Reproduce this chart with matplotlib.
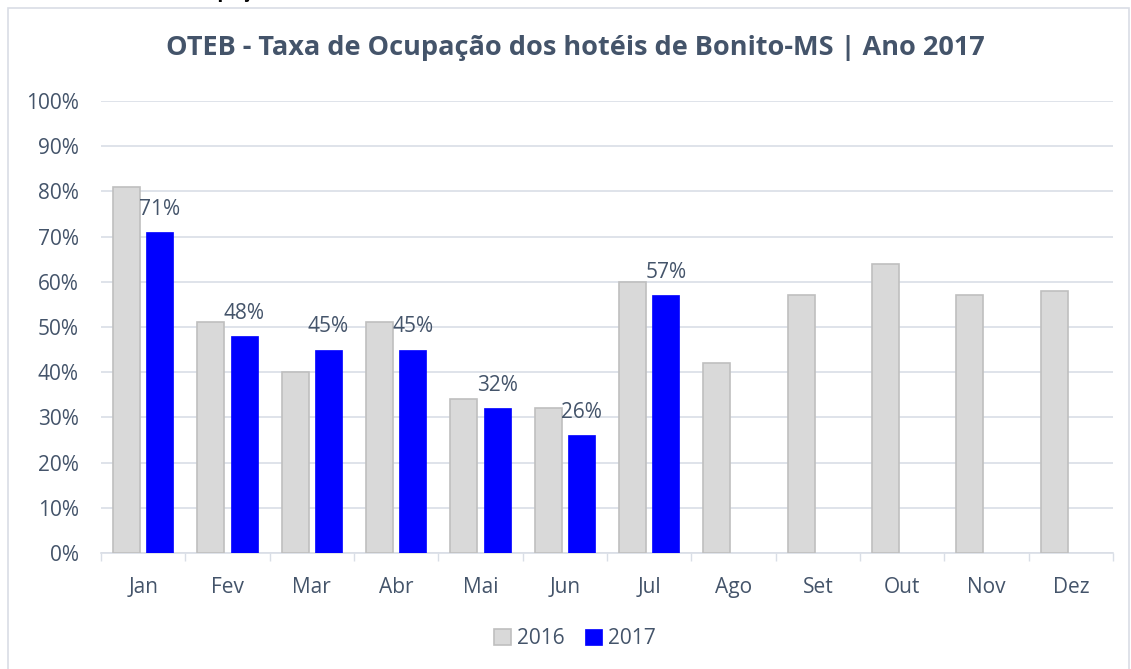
import matplotlib
matplotlib.use("Agg")
import matplotlib.pyplot as plt
import numpy as np
from matplotlib.patches import Rectangle

months = ["Jan", "Fev", "Mar", "Abr", "Mai", "Jun", "Jul", "Ago", "Set", "Out", "Nov", "Dez"]
vals_2016 = [81, 51, 40, 51, 34, 32, 60, 42, 57, 64, 57, 58]
vals_2017 = [71, 48, 45, 45, 32, 26, 57]
yticks = [0, 10, 20, 30, 40, 50, 60, 70, 80, 90, 100]

plt.rcParams['font.family'] = ['Open Sans', 'DejaVu Sans']
txt = "#44546a"
grid_c = "#d9dee6"
fs = 15

fig = plt.figure(figsize=(11.31, 6.69), dpi=100)
ax = fig.add_axes([101/1131, 1-553/669, (1113-101)/1131, (553-101)/669])

x = np.arange(len(months))
w = 0.32
gap = 0.075
ax.bar(x - (w+gap)/2, vals_2016, width=w, color="#d9d9d9", edgecolor="#bfbfbf", linewidth=1.2, label="2016", zorder=3)
x17 = np.arange(len(vals_2017))
ax.bar(x17 + (w+gap)/2, vals_2017, width=w, color="#0000ff", edgecolor="#0000ff", linewidth=0.5, label="2017", zorder=3)
for xi, v in zip(x17, vals_2017):
    ax.annotate(f"{v}%", (xi + (w+gap)/2, v), xytext=(0, 9), textcoords="offset points",
                ha="center", va="bottom", fontsize=fs, color=txt)

ax.set_xlim(-0.5, len(months) - 0.5)
ax.set_ylim(0, 100)
ax.set_yticks(yticks)
ax.set_yticklabels([f"{t}%" for t in yticks])
ax.set_xticks(x)
ax.set_xticklabels(months)
ax.set_xticks(np.arange(-0.5, len(months)), minor=True)
ax.tick_params(axis="x", which="major", length=0, pad=17, labelsize=fs, labelcolor=txt)
ax.tick_params(axis="x", which="minor", length=6, color=grid_c, width=1)
ax.tick_params(axis="y", length=0, pad=16, labelsize=fs, labelcolor=txt)
for s in ["top", "right", "left"]:
    ax.spines[s].set_visible(False)
ax.spines["bottom"].set_color(grid_c)
ax.spines["bottom"].set_linewidth(1.2)
ax.yaxis.grid(True, color=grid_c, linewidth=1.2, zorder=0)
ax.set_axisbelow(True)

fig.text(575/1131, 1-48/669, "OTEB - Taxa de Ocupação dos hotéis de Bonito-MS | Ano 2017",
         ha="center", va="center", fontsize=19.5, fontweight="bold", color=txt)

fig.legend(loc="center", bbox_to_anchor=(575/1131, 1-639/669), ncol=2, frameon=False,
           fontsize=fs, labelcolor=txt, handlelength=0.8, handleheight=0.8,
           handletextpad=0.3, columnspacing=1.0)

fig.patches.append(Rectangle((8/1131, -0.05), (1129-8)/1131, 1-8/669+0.05, transform=fig.transFigure,
                             fill=False, edgecolor="#d9dde5", linewidth=1.2))

fig.text(100/1131, 1+3/669, "Taxa de Ocupação", ha="left", va="baseline", fontsize=14,
         fontweight="bold", color="black")

fig.savefig("out.png", dpi=100, facecolor="white")
